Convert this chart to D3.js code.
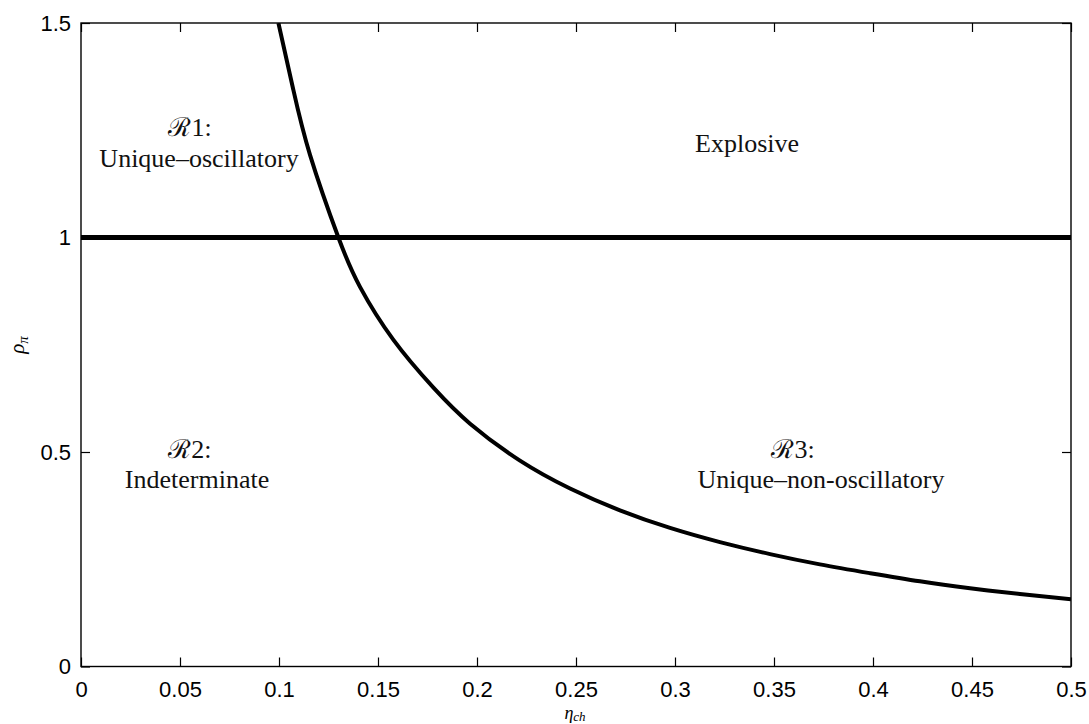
<!DOCTYPE html>
<html lang="en">

<head>
  <meta charset="UTF-8">
  <title>Determinacy regions</title>
  <style>
    body { margin: 0; background: #fff; }
    .tick text { font-family: "Liberation Sans", Arial, sans-serif; font-size: 22px; fill: #000; }
    .region { font-family: "Liberation Serif", "Times New Roman", serif; font-size: 26px; fill: #111; }
    .axlab { font-family: "Liberation Serif", serif; font-style: italic; fill: #000; }
  </style>
</head>

<body>

  <script src="https://cdn.jsdelivr.net/npm/d3@7"></script>
  <script>
    var width = 1089;   // canvas width
    var height = 724;   // canvas height
    var margin = { top: 23, right: 18, bottom: 57.5, left: 81 };

    // boundary curve
    var eta = [0.0997, 0.1072, 0.1157, 0.130, 0.1409, 0.1577, 0.178, 0.1965, 0.2217,
      0.247, 0.2722, 0.2975, 0.3227, 0.348, 0.3732, 0.3985, 0.4237, 0.449, 0.4742, 0.5];
    var rho = [1.5, 1.345, 1.192, 1.0, 0.885, 0.762, 0.650, 0.566, 0.480,
      0.415, 0.364, 0.323, 0.290, 0.262, 0.238, 0.2175, 0.1985, 0.1825, 0.169, 0.157];

    // rho = 1 line
    var unitEta = [0, 0.5];
    var unitRho = [1, 1];

    var xTicks = [0, 0.05, 0.1, 0.15, 0.2, 0.25, 0.3, 0.35, 0.4, 0.45, 0.5];
    var xTickLabels = ["0", "0.05", "0.1", "0.15", "0.2", "0.25", "0.3", "0.35", "0.4", "0.45", "0.5"];
    var yTicks = [0, 0.5, 1, 1.5];
    var yTickLabels = ["0", "0.5", "1", "1.5"];

    var regionText = [["ℛ1:", "Unique–oscillatory"], ["Explosive"],
      ["ℛ2:", "Indeterminate"], ["ℛ3:", "Unique–non-oscillatory"]];

    var svg = d3.select("body")
      .append("svg")
      .attr("width", width)
      .attr("height", height);

    var x = d3.scaleLinear().domain([0, 0.5]).range([margin.left, width - margin.right]);
    var y = d3.scaleLinear().domain([0, 1.5]).range([height - margin.bottom, margin.top]);

    svg.append("clipPath").attr("id", "plot")
      .append("rect")
      .attr("x", x(0)).attr("y", y(1.5))
      .attr("width", x(0.5) - x(0)).attr("height", y(0) - y(1.5));

    // axes, ticks pointing inwards like matlab
    svg.append("g")
      .attr("transform", "translate(0," + y(0) + ")")
      .call(d3.axisBottom(x).tickValues(xTicks).tickSize(-9).tickPadding(15)
        .tickFormat(function (d, i) { return xTickLabels[i]; }));
    svg.append("g")
      .attr("transform", "translate(0," + y(1.5) + ")")
      .call(d3.axisTop(x).tickValues(xTicks).tickSize(-9).tickFormat(""));
    svg.append("g")
      .attr("transform", "translate(" + x(0) + ",0)")
      .call(d3.axisLeft(y).tickValues(yTicks).tickSize(-9).tickPadding(10)
        .tickFormat(function (d, i) { return yTickLabels[i]; }));
    svg.append("g")
      .attr("transform", "translate(" + x(0.5) + ",0)")
      .call(d3.axisRight(y).tickValues(yTicks).tickSize(-9).tickFormat(""));

    svg.selectAll(".domain").remove();
    svg.selectAll(".tick line").attr("stroke", "#000").attr("stroke-width", 1.2);

    svg.append("rect")
      .attr("x", x(0)).attr("y", y(1.5))
      .attr("width", x(0.5) - x(0)).attr("height", y(0) - y(1.5))
      .attr("fill", "none")
      .attr("stroke", "#000")
      .attr("stroke-width", 1.4);

    var line = d3.line()
      .x(function (d) { return x(d[0]); })
      .y(function (d) { return y(d[1]); });

    svg.append("path")
      .datum(d3.zip(unitEta, unitRho))
      .attr("d", line)
      .attr("fill", "none")
      .attr("stroke", "#000")
      .attr("stroke-width", 5);

    svg.append("path")
      .datum(d3.zip(eta, rho))
      .attr("clip-path", "url(#plot)")
      .attr("d", line.curve(d3.curveNatural))
      .attr("fill", "none")
      .attr("stroke", "#000")
      .attr("stroke-width", 4);

    // region labels: [eta, rho] of each line's centre / baseline
    var labelPos = [[[0.0551, 1.2296], [0.0596, 1.1643]], [[0.3364, 1.1993]],
      [[0.055, 0.4767], [0.0586, 0.4161]], [[0.3596, 0.4767], [0.3737, 0.4161]]];

    regionText.forEach(function (lines, i) {
      lines.forEach(function (s, j) {
        // first line of a two-line label sits a touch higher so the rows don't touch
        var lift = (lines.length > 1 && j === 0) ? 3.5 : 0;
        svg.append("text")
          .attr("class", "region")
          .attr("text-anchor", "middle")
          .attr("x", x(labelPos[i][j][0]))
          .attr("y", y(labelPos[i][j][1]) - lift)
          .text(s);
      });
    });

    // axis labels
    var xl = svg.append("text")
      .attr("class", "axlab")
      .attr("x", 575)
      .attr("y", 719)
      .attr("text-anchor", "middle")
      .attr("font-size", 18);
    xl.append("tspan").text("η");
    xl.append("tspan").attr("font-size", 13).attr("dy", 2).text("ch");

    var yl = svg.append("text")
      .attr("class", "axlab")
      .attr("transform", "translate(24,345) rotate(-90)")
      .attr("text-anchor", "middle")
      .attr("font-size", 21);
    yl.append("tspan").text("ρ");
    yl.append("tspan").attr("font-size", 15).attr("dy", 4).text("π");
  </script>
</body>

</html>
